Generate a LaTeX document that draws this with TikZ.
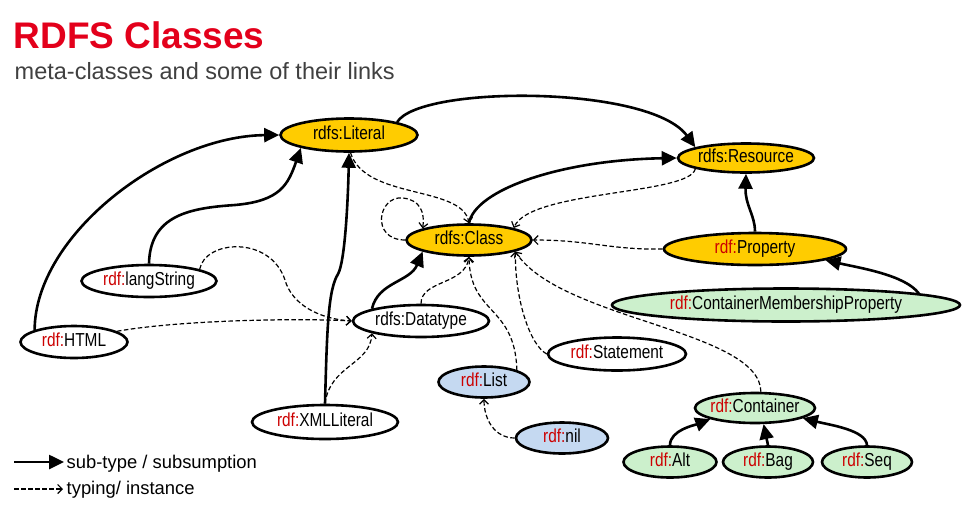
\documentclass[tikz,border=0pt]{standalone}
\usepackage{fontspec}
\setmainfont{Liberation Sans}
\newfontfamily\nodefont[FakeStretch=0.82]{Liberation Sans}
\usetikzlibrary{arrows.meta,shapes.geometric}
\definecolor{gold}{HTML}{FFCC00}
\definecolor{lgreen}{HTML}{CCF0CC}
\definecolor{lblue}{HTML}{C5D9F1}
\definecolor{rdfred}{HTML}{CC0000}
\definecolor{titlered}{HTML}{E3001B}
\definecolor{subgray}{HTML}{404040}
\newcommand{\rdfp}{\textcolor{rdfred}{rdf:}}
\newcommand{\nl}[1]{\makebox[0pt]{#1}}
\begin{document}
\begin{tikzpicture}[x=1pt,y=-1pt,
  cnode/.style={ellipse, draw, line width=2.6pt, inner sep=0pt,
     text height=13.8pt, text depth=4pt,
     font=\nodefont\fontsize{18.8}{20}\selectfont},
  goldn/.style={cnode, fill=gold},
  greenn/.style={cnode, fill=lgreen},
  bluen/.style={cnode, fill=lblue},
  whiten/.style={cnode, fill=white},
  sub/.style={line width=2.6pt, -{Triangle[length=15pt,width=14pt]}},
  typ/.style={line width=1.2pt, dash pattern=on 4.5pt off 2.5pt, -{Straight Barb[length=4.5pt,width=9pt]}},
  legend/.style={inner sep=0pt, font=\fontsize{18.4}{20}\selectfont}
]
\useasboundingbox (0,0) rectangle (975,523);

% title
\node[anchor=base west, text=titlered, inner sep=0pt, font=\bfseries\fontsize{37}{40}\selectfont] (title) at (13.5,48) {RDFS Classes};
\node[anchor=base west, text=subgray, inner sep=0pt, font=\fontsize{23.5}{26}\selectfont] (subtitle) at (14.5,79) {meta-classes and some of their links};

% nodes
\node[goldn, minimum width=137pt, minimum height=33pt] (lit) at (349,135) {\nl{rdfs:Literal}};
\node[goldn, minimum width=136pt, minimum height=29pt] (res) at (746,158) {\nl{rdfs:Resource}};
\node[goldn, minimum width=125pt, minimum height=31pt] (cls) at (469,240) {\nl{rdfs:Class}};
\node[goldn, minimum width=182pt, minimum height=32pt] (prop) at (755,249) {\nl{\rdfp Property}};
\node[greenn, minimum width=348pt, minimum height=33pt] (cmp) at (786,305) {\nl{\rdfp ContainerMembershipProperty}};
\node[whiten, minimum width=136pt, minimum height=32pt] (dt) at (421,321) {\nl{rdfs:Datatype}};
\node[whiten, minimum width=135pt, minimum height=32pt] (lang) at (149,281) {\nl{\rdfp langString}};
\node[whiten, minimum width=107pt, minimum height=32pt] (html) at (74,342) {\nl{\rdfp HTML}};
\node[whiten, minimum width=146pt, minimum height=34pt] (xml) at (325,422) {\nl{\rdfp XMLLiteral}};
\node[bluen, minimum width=91pt, minimum height=31pt] (list) at (484,382) {\nl{\rdfp List}};
\node[bluen, minimum width=92pt, minimum height=31pt] (nil) at (562,438) {\nl{\rdfp nil}};
\node[whiten, minimum width=138pt, minimum height=33pt] (stmt) at (617,354) {\nl{\rdfp Statement}};
\node[greenn, minimum width=120pt, minimum height=30pt] (cont) at (755,408) {\nl{\rdfp Container}};
\node[greenn, minimum width=93pt, minimum height=31pt] (alt) at (670,462) {\nl{\rdfp Alt}};
\node[greenn, minimum width=90pt, minimum height=31pt] (bag) at (768,462) {\nl{\rdfp Bag}};
\node[greenn, minimum width=90pt, minimum height=31pt] (seq) at (867,462) {\nl{\rdfp Seq}};

% sub-type edges
\draw[sub] (html.163) .. controls (35,235) and (165,136) .. (lit.west);
\draw[sub] (lang.north) .. controls (150,215) and (190,208) .. (235,205) .. controls (280,201) and (288,185) .. (lit.195);
\draw[sub] (xml.north) .. controls (327,330) and (328,290) .. (338,274) .. controls (345,262) and (348,200) .. (lit.south);
\draw[sub] (lit.15) .. controls (420,85) and (650,85) .. (res.168);
\draw[sub] (cls.north) .. controls (475,190) and (560,160) .. (res.west);
\draw[sub] (prop.north) .. controls (755,215) and (745,205) .. (res.south);
\draw[sub] (cmp.5) .. controls (905,275) and (860,268) .. (prop.-9);
\draw[sub] (dt.166) .. controls (378,282) and (410,282) .. (cls.194);
\draw[sub] (alt.north) .. controls (670,430) and (695,425) .. (cont.194);
\draw[sub] (bag.north) -- (cont.-62);
\draw[sub] (seq.north) .. controls (866,430) and (830,425) .. (cont.-12);

% typing edges
\draw[typ] (lit.-85) .. controls (365,200) and (462,185) .. (cls.north);
\draw[typ] (cls.west) .. controls (370,240) and (378,195) .. (403,198) .. controls (420,200) and (425,212) .. (cls.166);
\draw[typ] (res.192) .. controls (690,195) and (530,190) .. (cls.15);
\draw[typ] (prop.west) .. controls (610,250) and (590,240) .. (cls.east);
\draw[typ] (cont.70) .. controls (760,330) and (560,320) .. (cls.-14);
\draw[typ] (stmt.west) .. controls (530,345) and (515,300) .. (cls.-14);
\draw[typ] (list.20) .. controls (515,305) and (470,315) .. (cls.south);
\draw[typ] (dt.north) .. controls (421,280) and (465,285) .. (cls.south);
\draw[typ] (lang.13) .. controls (205,240) and (270,235) .. (285,280) .. controls (292,305) and (320,319) .. (dt.west);
\draw[typ] (html.14) .. controls (180,320) and (300,318) .. (dt.west);
\draw[typ] (xml.north) .. controls (330,365) and (370,365) .. (dt.194);
\draw[typ] (nil.west) .. controls (495,438) and (484,420) .. (list.south);

% legend
\coordinate (la) at (14,462);
\coordinate (lb) at (64,462);
\coordinate (lc) at (14,489);
\coordinate (ld) at (63,489);
\draw[sub] (la) -- (lb);
\draw[typ] (lc) -- (ld);
\node[legend, anchor=base west] (lt1) at (66.5,468.5) {sub-type / subsumption};
\node[legend, anchor=base west] (lt2) at (66.5,494) {typing/ instance};
\end{tikzpicture}
\end{document}
